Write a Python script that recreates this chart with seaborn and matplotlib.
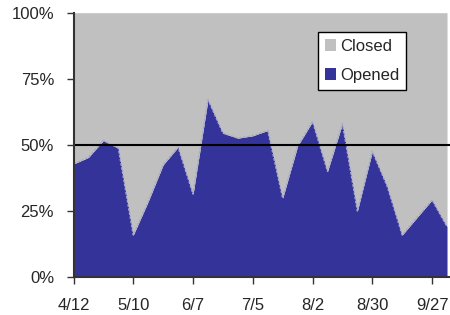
import matplotlib
matplotlib.use("Agg")
import matplotlib.pyplot as plt
import seaborn as sns
import numpy as np
import pandas as pd
from matplotlib.patches import Patch

weeks = list(range(26))
tick_labels = ["4/12", "5/10", "6/7", "7/5", "8/2", "8/30", "9/27"]
opened = [42.7, 45.2, 51.6, 48.7, 15.8, 28.5, 42.4, 49.1, 31.3, 67.1, 54.4, 52.5, 53.4,
          55.4, 29.8, 49.5, 58.8, 39.9, 58.0, 24.9, 47.5, 34.2, 15.8, 22.5, 29.1, 19.0]
closed = [100 - v for v in opened]

df = pd.DataFrame({"week": weeks, "Opened": opened, "Closed": closed})

sns.set_style("white")
plt.rcParams['font.family'] = ['Liberation Sans', 'DejaVu Sans']

fig = plt.figure(figsize=(4.5, 3.15), dpi=100)
ax = fig.add_axes([73.5/450, 1 - 276.7/315, 1 - 73.5/450, (276.7 - 12.7)/315])

blue = "#333399"
gray = "#c0c0c0"
ax.stackplot(df["week"], df["Opened"], df["Closed"], colors=[blue, gray], linewidth=0)
sns.lineplot(data=df, x="week", y="Opened", ax=ax, color="#a8a8c8", linewidth=1.0,
             linestyle=(0, (2, 1)))
ax.axhline(50, color="black", linewidth=1.5, zorder=5)

ax.set_xlim(0, 25.2)
ax.set_ylim(0, 100)
ax.set_xticks(weeks[::4])
ax.set_xticklabels(tick_labels)
ax.set_yticks([0, 25, 50, 75, 100])
ax.set_yticklabels(["0%", "25%", "50%", "75%", "100%"])
ax.set_xlabel("")
ax.set_ylabel("")

for s in ["top", "right"]:
    ax.spines[s].set_visible(False)
for s in ["left", "bottom"]:
    ax.spines[s].set_color("#333333")
    ax.spines[s].set_linewidth(1.5)
    ax.spines[s].set_zorder(6)

ax.tick_params(axis="y", direction="out", length=5, width=1, color="#333333",
               labelsize=12, pad=9, left=True)
ax.tick_params(axis="x", direction="out", length=5, width=1, color="#333333",
               labelsize=12, pad=10.5, bottom=True)

handles = [Patch(facecolor=gray, edgecolor="none", label="Closed"),
           Patch(facecolor=blue, edgecolor="none", label="Opened")]
leg = ax.legend(handles=handles, loc="upper left", bbox_to_anchor=((318 - 73.5)/376.5, (276.7 - 32)/264),
                frameon=True, fancybox=False, framealpha=1.0, fontsize=12, handlelength=0.7,
                handleheight=0.7, handletextpad=0.25, labelspacing=0.85, borderpad=0.4,
                borderaxespad=0)
leg.get_frame().set_edgecolor("black")
leg.get_frame().set_linewidth(1.0)
leg.get_frame().set_facecolor("white")
leg.set_zorder(10)

fig.savefig("out.png", dpi=100)
